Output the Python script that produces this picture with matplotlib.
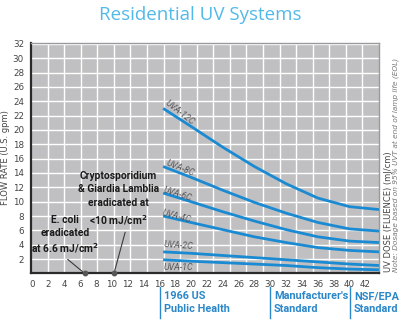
import matplotlib
matplotlib.use("Agg")
import matplotlib.pyplot as plt
import numpy as np

# UV dose (mJ/cm2) sample positions along each unit's curve
dose = [16.5, 20, 24, 28, 32, 36, 40, 43.7]

# Flow rate (U.S. gpm) for each residential model
uva_12c = [23.0, 20.5, 17.6, 14.9, 12.5, 10.5, 9.3, 8.9]
uva_8c = [14.9, 13.4, 11.6, 9.9, 8.4, 7.1, 6.2, 5.9]
uva_6c = [11.2, 10.0, 8.6, 7.3, 6.1, 5.1, 4.5, 4.3]
uva_4c = [8.0, 7.1, 6.1, 5.1, 4.3, 3.6, 3.2, 3.0]
uva_2c = [3.0, 2.8, 2.5, 2.2, 1.9, 1.6, 1.3, 1.1]
uva_1c = [1.9, 1.7, 1.5, 1.3, 1.1, 0.8, 0.6, 0.5]

series = [("UVA-12C", uva_12c), ("UVA-8C", uva_8c), ("UVA-6C", uva_6c),
          ("UVA-4C", uva_4c), ("UVA-2C", uva_2c), ("UVA-1C", uva_1c)]

x_ticks = list(range(0, 43, 2))
y_ticks = list(range(2, 33, 2))

# Reference doses for the pathogen call-outs
ecoli_dose = 6.6
crypto_dose = 10.3

# Regulatory standards shown under the axis
standards = [(16.1, "1966 US\nPublic Health"), (30.0, "Manufacturer's\nStandard"),
             (40.1, "NSF/EPA\nStandard")]

BG = "#c0c0c2"
LINE = "#1a8ad2"
LABEL = "#555557"
TXT = "#444444"
BLUE = "#2b87c8"
NARROW = ["DejaVu Sans Condensed", "Roboto", "DejaVu Sans"]

fig = plt.figure(figsize=(4.01, 3.28), dpi=100)
ax = fig.add_axes([0.0773, 0.1665, 0.8677, 0.7035])
ax.set_facecolor(BG)
x0, x1 = -0.16, 43.7
y0, y1 = 0, 32.17
ax.set_xlim(x0, x1)
ax.set_ylim(y0, y1)

# white background grid: 21 columns, rows on every y tick
for gx in np.linspace(x0, x1, 22)[1:-1]:
    ax.axvline(gx, color="white", lw=1.0, zorder=1)
for gy in y_ticks:
    ax.axhline(gy, color="white", lw=1.0, zorder=1)

for name, vals in series:
    ax.plot(dose, vals, color=LINE, lw=2.0, solid_capstyle="butt", zorder=3)

ax.set_xticks(x_ticks)
ax.set_yticks(y_ticks)
ax.tick_params(length=0, labelsize=6.3, colors=TXT, pad=5)
for s in ("left", "bottom"):
    ax.spines[s].set_color("#2a2a2a")
    ax.spines[s].set_linewidth(1.6)
for s in ("top", "right"):
    ax.spines[s].set_color("#9a9a9c")
    ax.spines[s].set_linewidth(1.0)

ax.set_ylabel("FLOW RATE (U.S. gpm)", fontsize=6.0, color=TXT, labelpad=2)

# curve name tags
tag_kw = dict(fontsize=6.4, color=LABEL, style="italic", zorder=4, family=NARROW)
ax.text(18.6, 22.4, "UVA-12C", rotation=-38, ha="center", va="center", **tag_kw)
ax.text(18.6, 14.6, "UVA-8C", rotation=-22, ha="center", va="center", **tag_kw)
ax.text(18.3, 11.0, "UVA-6C", rotation=-18, ha="center", va="center", **tag_kw)
ax.text(18.2, 7.9, "UVA-4C", rotation=-15, ha="center", va="center", **tag_kw)
ax.text(18.4, 3.9, "UVA-2C", rotation=-4, ha="center", va="center", **tag_kw)
ax.text(18.4, 0.85, "UVA-1C", rotation=0, ha="center", va="center", **tag_kw)

# pathogen call-outs
note_kw = dict(fontsize=7.4, color="#1a1a1a", weight="bold", ha="center",
               family=NARROW, zorder=5)
ax.text(4.1, 2.6, "E. coli\neradicated\nat 6.6 mJ/cm$^\\mathbf{2}$", va="bottom",
        linespacing=1.3, **note_kw)
ax.text(10.9, 6.5, "Cryptosporidium\n& Giardia Lamblia\neradicated at\n<10 mJ/cm$^\\mathbf{2}$",
        va="bottom", linespacing=1.45, **note_kw)
ax.annotate("", xy=(ecoli_dose, 0), xytext=(4.2, 2.2),
            arrowprops=dict(arrowstyle="-", color="#3a3a3a", lw=0.8))
ax.annotate("", xy=(crypto_dose, 0), xytext=(11.8, 6.1),
            arrowprops=dict(arrowstyle="-", color="#3a3a3a", lw=0.8))
ax.plot([ecoli_dose, crypto_dose], [0, 0], "o", ms=3.2, color="#555555",
        clip_on=False, zorder=6)

# standards below the axis
trans = ax.get_xaxis_transform()
for sx, label in standards:
    ax.plot([sx, sx], [-0.059, -0.193], color=BLUE, lw=1.0, transform=trans,
            clip_on=False)
    ax.text(sx + 0.45, -0.126, label, transform=trans, fontsize=7.8, color=BLUE,
            weight="bold", ha="left", va="center", linespacing=1.35,
            family=NARROW)

# title
fig.text(0.5, 0.955, "Residential UV Systems", ha="center", va="center",
         fontsize=13.5, color="#52b9e9", family=["Open Sans", "DejaVu Sans"])

# right-hand axis notes
fig.text(0.968, 0.17, "UV DOSE (FLUENCE) (mJ/cm)", rotation=90, ha="center",
         va="bottom", fontsize=6.0, color=TXT)
fig.text(0.988, 0.17, "Note: Dosage based on 95% UVT at end of lamp life (EOL)",
         rotation=90, ha="center", va="bottom", fontsize=5.3, color="#777777",
         style="italic")

fig.savefig("out.png", dpi=100, facecolor="white")
